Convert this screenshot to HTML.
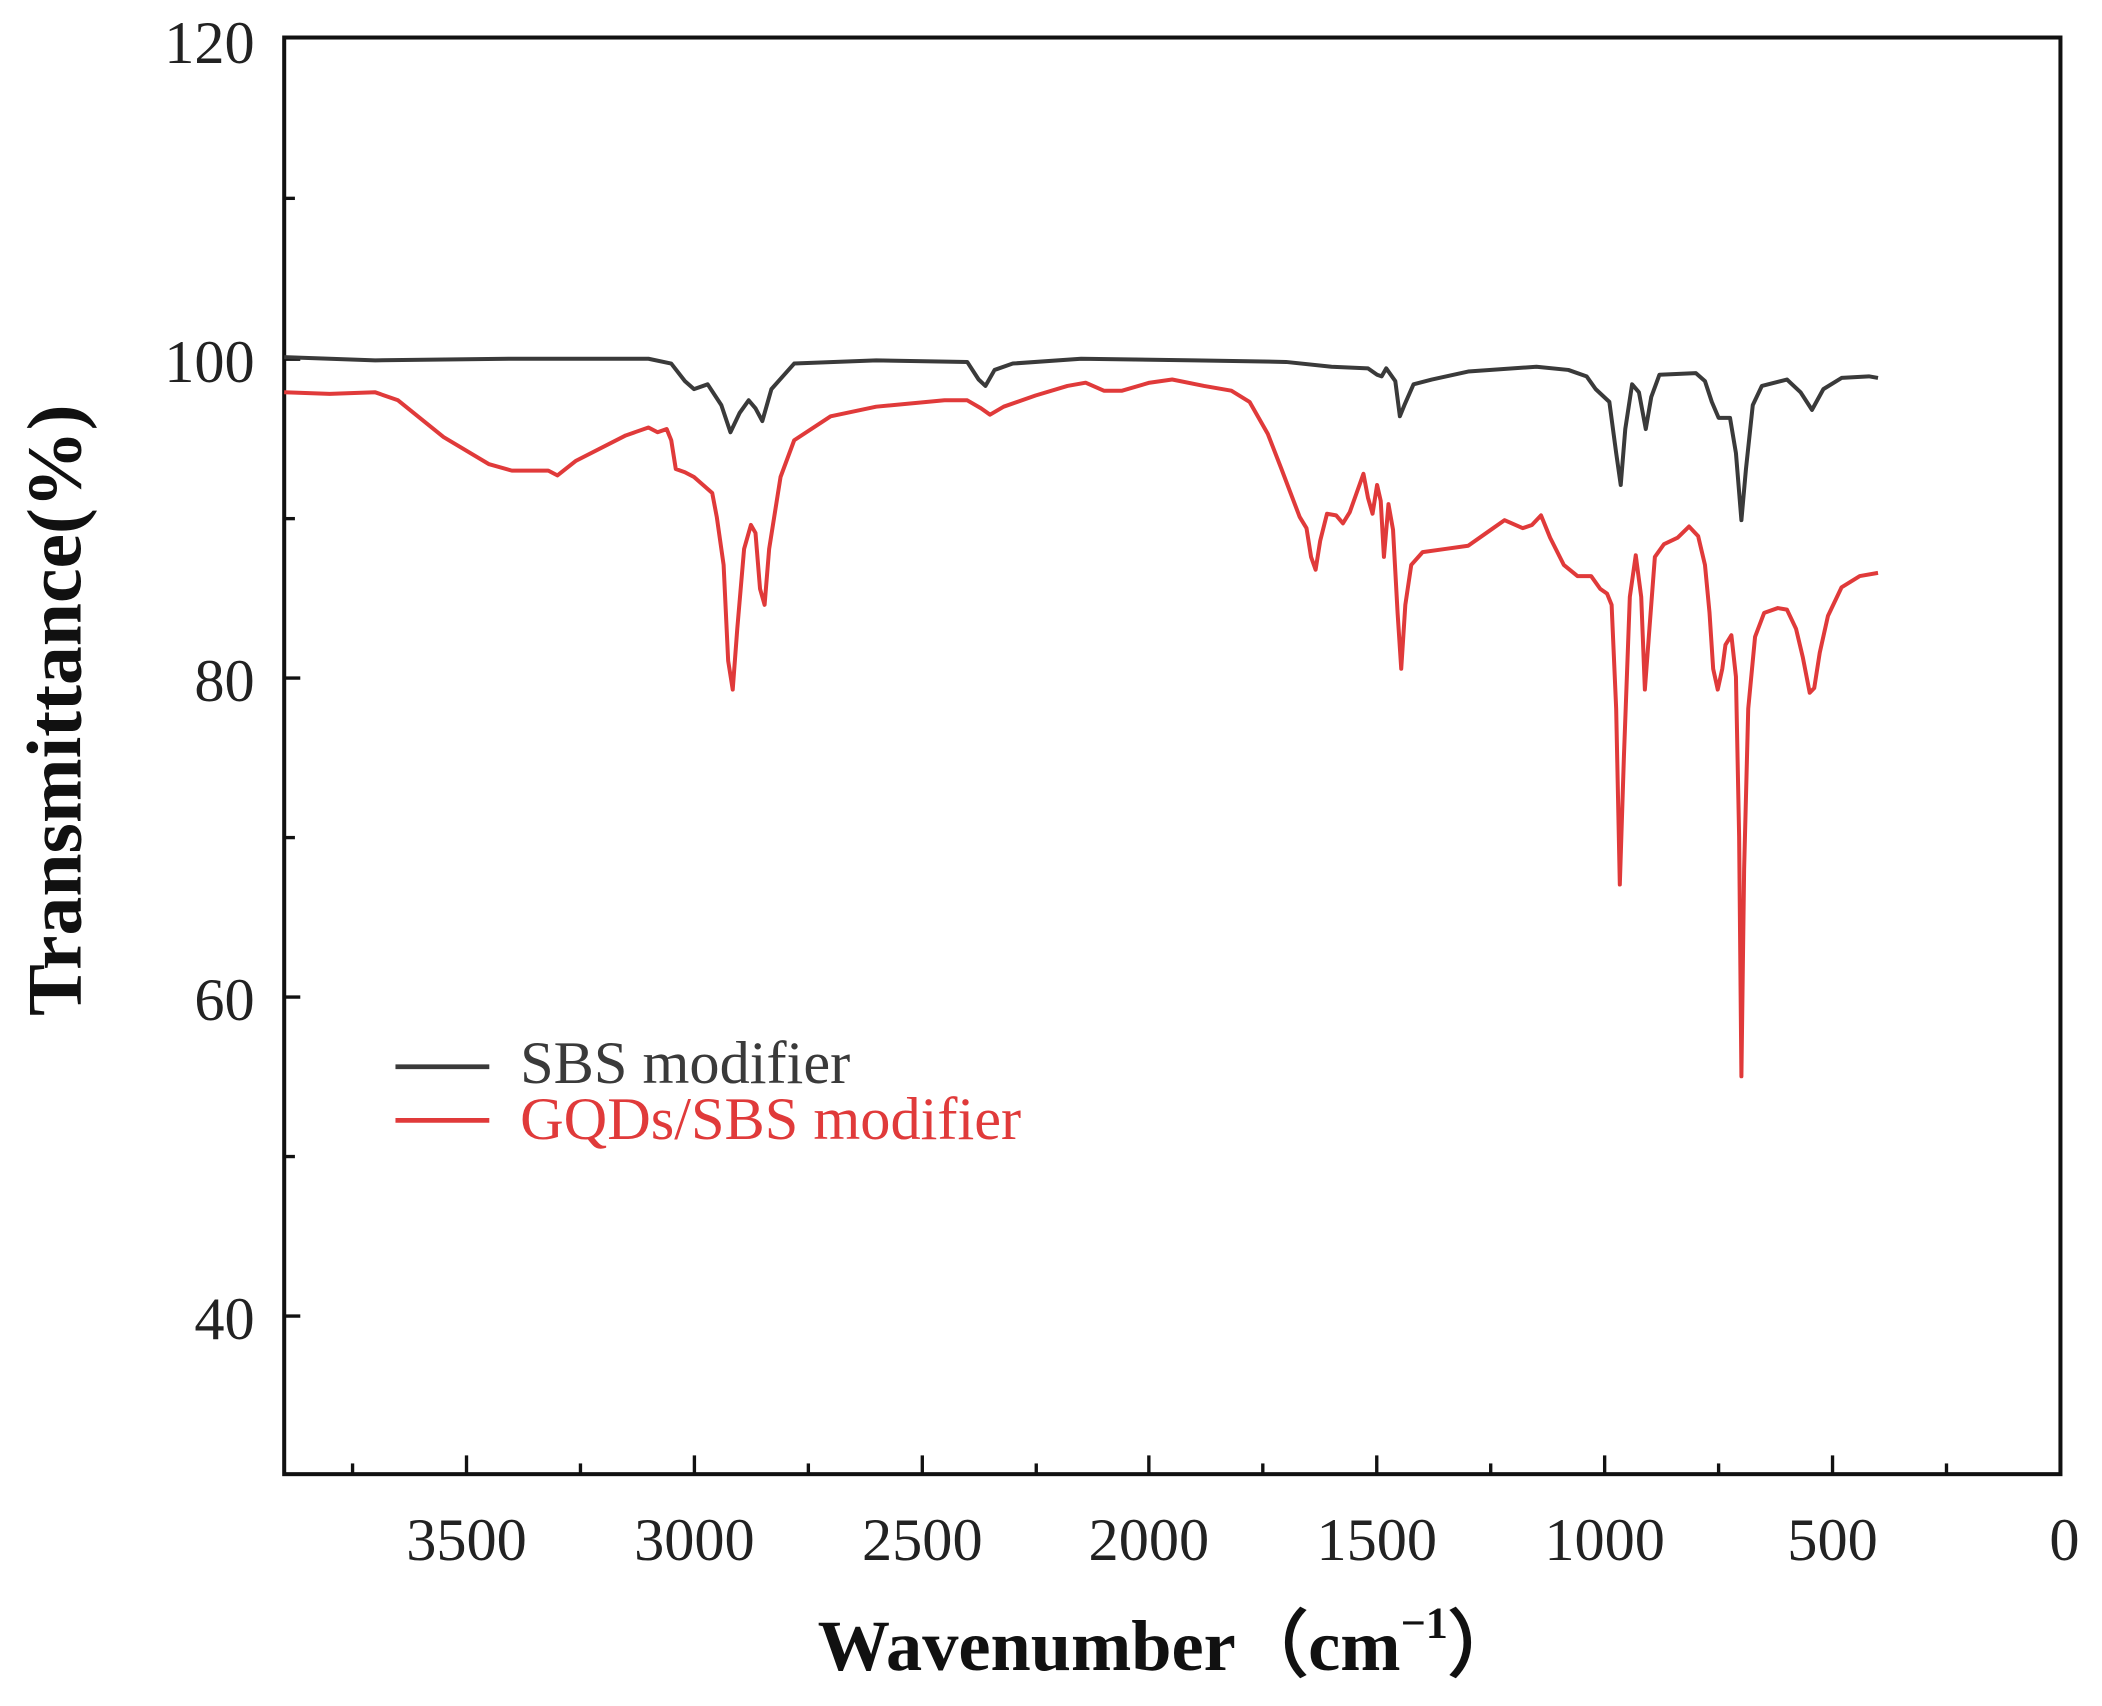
<!DOCTYPE html>
<html><head><meta charset="utf-8"><style>
html,body{margin:0;padding:0;background:#fff;}
svg{display:block;}
</style></head><body>
<svg width="2102" height="1706" viewBox="0 0 1568 1273" preserveAspectRatio="none" xmlns="http://www.w3.org/2000/svg">
<rect width="1568" height="1273" fill="#fff"/>
<g font-family="Liberation Serif, serif" fill="#222">
<rect x="212" y="28" width="1325" height="1072" fill="none" stroke="#111" stroke-width="3"/>
<g stroke="#111" stroke-width="2.5">
<line x1="348" y1="1100" x2="348" y2="1086"/><line x1="518" y1="1100" x2="518" y2="1086"/>
<line x1="688" y1="1100" x2="688" y2="1086"/><line x1="857" y1="1100" x2="857" y2="1086"/>
<line x1="1027" y1="1100" x2="1027" y2="1086"/><line x1="1197" y1="1100" x2="1197" y2="1086"/>
<line x1="1367" y1="1100" x2="1367" y2="1086"/>
<line x1="263" y1="1100" x2="263" y2="1092"/><line x1="433" y1="1100" x2="433" y2="1092"/>
<line x1="603" y1="1100" x2="603" y2="1092"/><line x1="773" y1="1100" x2="773" y2="1092"/>
<line x1="942" y1="1100" x2="942" y2="1092"/><line x1="1112" y1="1100" x2="1112" y2="1092"/>
<line x1="1282" y1="1100" x2="1282" y2="1092"/><line x1="1452" y1="1100" x2="1452" y2="1092"/>
<line x1="212" y1="268" x2="224" y2="268"/><line x1="212" y1="506" x2="224" y2="506"/>
<line x1="212" y1="744" x2="224" y2="744"/><line x1="212" y1="982" x2="224" y2="982"/>
<line x1="212" y1="148" x2="220" y2="148"/><line x1="212" y1="387" x2="220" y2="387"/>
<line x1="212" y1="625" x2="220" y2="625"/><line x1="212" y1="863" x2="220" y2="863"/>
</g>
<g font-size="45" text-anchor="end">
<text x="190" y="47">120</text><text x="190" y="285">100</text>
<text x="190" y="523">80</text><text x="190" y="761">60</text><text x="190" y="999">40</text>
</g>
<g font-size="45" text-anchor="middle">
<text x="348" y="1164">3500</text><text x="518" y="1164">3000</text><text x="688" y="1164">2500</text>
<text x="857" y="1164">2000</text><text x="1027" y="1164">1500</text><text x="1197" y="1164">1000</text>
<text x="1367" y="1164">500</text><text x="1540" y="1164">0</text>
</g>
<text x="872" y="1246" font-size="54" font-weight="bold" text-anchor="middle" fill="#111">Wavenumber（cm<tspan font-size="33" dy="-24">−1</tspan><tspan dy="24">）</tspan></text>
<text transform="translate(60,530) rotate(-90)" font-size="58" font-weight="bold" text-anchor="middle" fill="#111">Transmittance(%)</text>
<line x1="295" y1="796" x2="365" y2="796" stroke="#3a3a3a" stroke-width="3.5"/>
<text x="388" y="808" font-size="45" fill="#3a3a3a">SBS modifier</text>
<line x1="295" y1="836" x2="365" y2="836" stroke="#e03a3a" stroke-width="3.5"/>
<text x="388" y="850" font-size="45" fill="#e03a3a">GQDs/SBS modifier</text>
</g>
<g transform="matrix(-0.3397 0 0 -11.925 1536.8 1459)" fill="none" stroke-linejoin="round">
<path vector-effect="non-scaling-stroke" stroke="#3a3a3a" stroke-width="4" d="M3900 100 L3700 99.8 L3400 99.9 L3100 99.9 L3050 99.6 L3020 98.5 L3000 98 L2970 98.3 L2940 97 L2920 95.3 L2900 96.5 L2880 97.3 L2865 96.8 L2850 96 L2830 98 L2780 99.6 L2600 99.8 L2400 99.7 L2375 98.6 L2360 98.2 L2340 99.2 L2300 99.6 L2150 99.9 L1900 99.8 L1700 99.7 L1600 99.4 L1520 99.3 L1500 98.9 L1490 98.8 L1480 99.3 L1460 98.5 L1450 96.3 L1440 97 L1420 98.3 L1380 98.6 L1300 99.1 L1150 99.4 L1080 99.2 L1040 98.8 L1020 98 L990 97.2 L975 94 L965 92 L955 95.5 L940 98.3 L925 97.8 L910 95.5 L898 97.5 L880 98.9 L800 99 L780 98.5 L765 97.2 L750 96.2 L725 96.2 L712 94 L700 89.8 L690 93 L675 97 L655 98.2 L600 98.6 L570 97.8 L545 96.7 L520 98 L480 98.7 L420 98.8 L400 98.7"/>
<path vector-effect="non-scaling-stroke" stroke="#e03a3a" stroke-width="4" d="M3900 97.8 L3800 97.7 L3700 97.8 L3650 97.3 L3550 95 L3450 93.3 L3400 92.9 L3320 92.9 L3300 92.6 L3260 93.5 L3150 95.1 L3100 95.6 L3080 95.3 L3060 95.5 L3050 94.8 L3040 93 L3020 92.8 L3000 92.5 L2980 92 L2960 91.5 L2950 90 L2935 87 L2925 81 L2915 79.2 L2905 83 L2890 88 L2875 89.5 L2865 89 L2855 85.5 L2845 84.5 L2835 88 L2810 92.5 L2780 94.8 L2700 96.3 L2600 96.9 L2450 97.3 L2400 97.3 L2370 96.8 L2350 96.4 L2320 96.9 L2250 97.6 L2180 98.2 L2140 98.4 L2100 97.9 L2060 97.9 L2000 98.4 L1950 98.6 L1880 98.2 L1820 97.9 L1780 97.2 L1740 95.2 L1710 93 L1690 91.5 L1670 90 L1655 89.3 L1645 87.5 L1635 86.7 L1625 88.5 L1610 90.2 L1590 90.1 L1575 89.6 L1560 90.3 L1545 91.5 L1530 92.7 L1520 91.2 L1510 90.2 L1500 92 L1492 91 L1485 87.5 L1475 90.8 L1465 89.2 L1455 84 L1447 80.5 L1438 84.5 L1425 87 L1400 87.8 L1350 88 L1300 88.2 L1260 89 L1220 89.8 L1180 89.3 L1160 89.5 L1140 90.1 L1120 88.7 L1090 87 L1060 86.3 L1030 86.3 L1010 85.5 L995 85.2 L985 84.5 L975 78 L967 67 L958 75 L945 85 L932 87.6 L920 85 L912 79.2 L902 83 L890 87.5 L870 88.3 L840 88.7 L815 89.4 L795 88.8 L780 87 L770 84 L762 80.5 L752 79.2 L742 80.5 L735 82 L722 82.6 L712 80 L705 70 L700 55 L694 68 L685 78 L670 82.5 L650 84 L620 84.3 L600 84.2 L580 83 L565 81.2 L550 79 L540 79.3 L528 81.5 L510 83.8 L480 85.6 L440 86.3 L400 86.5"/>
</g>
</svg>
</body></html>
